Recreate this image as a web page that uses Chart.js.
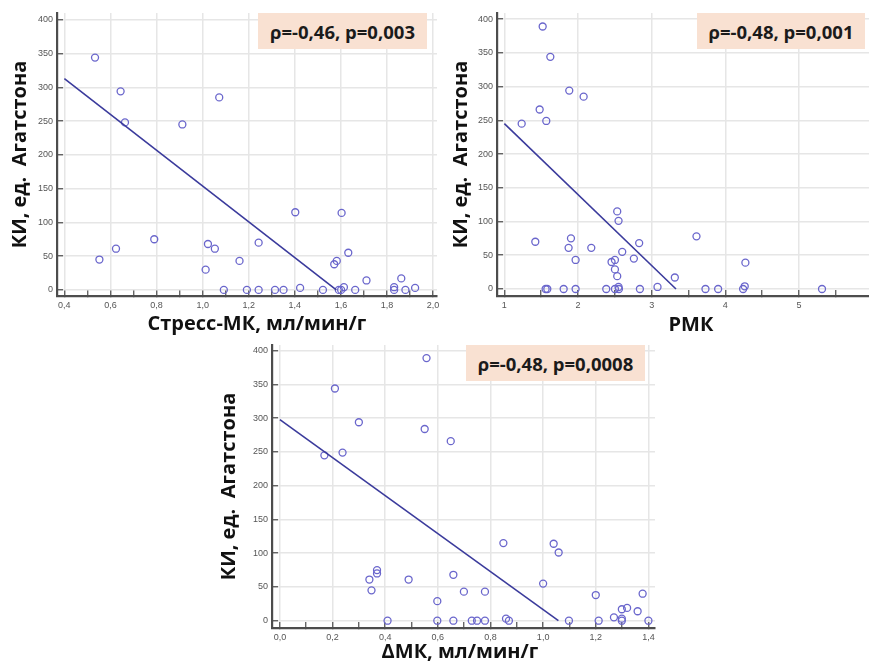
<!DOCTYPE html>
<html lang="ru">
<head>
<meta charset="utf-8">
<title>КИ по Агатстону и показатели миокардиального кровотока</title>
<script src="https://cdn.jsdelivr.net/npm/chart.js@4/dist/chart.umd.min.js"></script>
<style>
  html, body { margin: 0; padding: 0; background: #ffffff; }
  body { position: relative; width: 869px; height: 668px; overflow: hidden; }
  .panel { position: absolute; }
  .panel canvas { display: block; }
  .stat {
    position: absolute;
    background: #f9e1d2;
    color: #1b1b1b;
    font: bold 18.5px "Open Sans", "Liberation Sans", sans-serif;
    display: flex; align-items: center; justify-content: center;
    white-space: nowrap;
  }
  .xtitle {
    position: absolute;
    width: 400px;
    height: 26px;
    line-height: 26px;
    margin-left: -200px;
    margin-top: -13px;
    text-align: center;
    color: #111111;
    font: bold 20px "Open Sans", "Liberation Sans", sans-serif;
    white-space: nowrap;
  }
</style>
</head>
<body>
<div class="panel" style="left:0;top:0"><canvas id="cStress" width="440" height="335"></canvas></div>
<div class="panel" style="left:440px;top:0"><canvas id="cRmk" width="429" height="335"></canvas></div>
<div class="panel" style="left:200px;top:335px"><canvas id="cDmk" width="470" height="333"></canvas></div>
<div class="stat" style="left:258px;top:13px;width:169px;height:36px">ρ=-0,46, p=0,003</div>
<div class="stat" style="left:697px;top:13px;width:168px;height:36px">ρ=-0,48, p=0,001</div>
<div class="stat" style="left:466px;top:345px;width:179px;height:36px">ρ=-0,48, p=0,0008</div>
<div class="xtitle" style="left:257px;top:322px">Стресс-МК, мл/мин/г</div>
<div class="xtitle" style="left:691px;top:323px">РМК</div>
<div class="xtitle" style="left:460px;top:650px">ΔМК, мл/мин/г</div>

<script>
// Коронарный кальций (КИ, ед. Агатстона) — общая ось Y для трёх графиков
const kiTicks = [0, 50, 100, 150, 200, 250, 300, 350, 400];
const kiTitle = 'КИ, ед.  Агатстона';

// Стресс-МК, мл/мин/г
const stressX = [0.533, 0.552, 0.624, 0.644, 0.663, 0.790, 0.912, 1.013, 1.023, 1.053, 1.072, 1.092,
  1.160, 1.192, 1.243, 1.243, 1.314, 1.351, 1.402, 1.423, 1.522, 1.571, 1.582, 1.591, 1.601, 1.603,
  1.613, 1.632, 1.662, 1.711, 1.831, 1.831, 1.862, 1.880, 1.922];
const stressY = [344, 45, 61, 294, 248, 75, 245, 30, 68, 61, 285, 0,
  43, 0, 70, 0, 0, 0, 115, 3, 0, 38, 43, 0, 0, 114,
  4, 55, 0, 14, 4, 0, 17, 0, 3];
const stressFitX = [0.4, 1.58];
const stressFitY = [313, 0];
const stressTicks = [0.4, 0.6, 0.8, 1.0, 1.2, 1.4, 1.6, 1.8, 2.0];
const stressTickLabels = ['0,4', '0,6', '0,8', '1,0', '1,2', '1,4', '1,6', '1,8', '2,0'];
const stressMinorTicks = [0.5, 0.7, 0.9, 1.1, 1.3, 1.5, 1.7, 1.9];

// РМК
const rmkX = [1.520, 1.624, 1.881, 2.076, 1.479, 1.235, 1.569, 2.532, 2.550, 1.420, 1.904, 1.872,
  2.180, 2.830, 2.600, 1.967, 2.455, 2.501, 2.758, 2.501, 2.532, 3.314, 4.272, 3.608, 3.079,
  2.550, 4.263, 1.560, 1.583, 1.805, 1.967, 2.383, 2.501, 2.555, 2.840, 3.730, 3.902, 4.241, 5.312];
const rmkY = [389, 344, 294, 285, 266, 245, 249, 115, 101, 70, 75, 61,
  61, 68, 55, 43, 40, 43, 45, 29, 19, 17, 39, 78, 3,
  3, 4, 0, 0, 0, 0, 0, 0, 0, 0, 0, 0, 0, 0];
const rmkFitX = [1.0, 3.33];
const rmkFitY = [245, 0];
const rmkTicks = [1, 2, 3, 4, 5];
const rmkTickLabels = ['1', '2', '3', '4', '5'];
const rmkMinorTicks = [1.5, 2.5, 3.5, 4.5, 5.5];

// ΔМК, мл/мин/г
const dmkX = [0.557, 0.209, 0.300, 0.550, 0.649, 0.169, 0.238, 0.849, 1.040, 1.059, 0.369, 0.369,
  0.340, 0.489, 0.659, 0.348, 0.699, 0.779, 1.000, 0.598, 1.200, 1.378, 1.299, 1.319, 1.359,
  1.269, 1.299, 0.859, 0.409, 0.598, 0.659, 0.729, 0.749, 0.779, 0.870, 1.098, 1.211, 1.299, 1.400];
const dmkY = [389, 344, 294, 284, 266, 245, 249, 115, 114, 101, 75, 70,
  61, 61, 68, 45, 43, 43, 55, 29, 38, 40, 17, 19, 14,
  5, 3, 3, 0, 0, 0, 0, 0, 0, 0, 0, 0, 0, 0];
const dmkFitX = [0.0, 1.058];
const dmkFitY = [298, 0];
const dmkTicks = [0.0, 0.2, 0.4, 0.6, 0.8, 1.0, 1.2, 1.4];
const dmkTickLabels = ['0,0', '0,2', '0,4', '0,6', '0,8', '1,0', '1,2', '1,4'];
const dmkMinorTicks = [0.1, 0.3, 0.5, 0.7, 0.9, 1.1, 1.3];

const TITLE_FONT = { family: '"Open Sans", "Liberation Sans", sans-serif', size: 20, weight: 'bold', lineHeight: 1.2 };
const TICK_FONT = { family: '"Liberation Sans", Arial, sans-serif', size: 9 };
const GRID = '#e6e6e6';
const AXIS = '#4d4d4d';
const POINT = '#6a66cc';
const FIT = '#3b3b9c';

function toPoints(xs, ys) {
  return xs.map((x, i) => ({ x: x, y: ys[i] }));
}

function makeScatter(canvasId, p) {
  const major = p.xTicks;
  const allX = major.concat(p.xMinor).sort((a, b) => a - b);
  return new Chart(document.getElementById(canvasId), {
    type: 'scatter',
    data: {
      datasets: [
        {
          data: toPoints(p.x, p.y),
          showLine: false,
          pointStyle: 'circle',
          pointRadius: 3.5,
          pointHoverRadius: 3.5,
          pointBorderWidth: 1.3,
          pointBorderColor: POINT,
          pointBackgroundColor: 'rgba(0,0,0,0)',
          order: 2
        },
        {
          data: toPoints(p.fitX, p.fitY),
          showLine: true,
          borderColor: FIT,
          borderWidth: 1.6,
          pointRadius: 0,
          fill: false,
          order: 1
        }
      ]
    },
    options: {
      responsive: false,
      animation: false,
      events: [],
      layout: { autoPadding: false, padding: { top: p.padTop, right: p.padRight, left: 0, bottom: 0 } },
      plugins: { legend: { display: false }, tooltip: { enabled: false }, title: { display: false } },
      scales: {
        x: {
          type: 'linear',
          position: 'bottom',
          min: p.xMin,
          max: p.xMax,
          afterBuildTicks: (s) => { s.ticks = allX.map(v => ({ value: v })); },
          afterFit: (s) => { s.height = p.xHeight; s.paddingLeft = 0; s.paddingRight = 0; },
          ticks: {
            autoSkip: false,
            maxRotation: 0,
            padding: 10,
            color: '#555555',
            font: TICK_FONT,
            callback: (v) => { const i = major.indexOf(v); return i >= 0 ? p.xLabels[i] : ''; }
          },
          grid: {
            color: (c) => (c.tick && major.indexOf(c.tick.value) >= 0 ? GRID : 'rgba(0,0,0,0)'),
            lineWidth: 1.5,
            tickColor: AXIS,
            tickWidth: 1.2,
            tickLength: -6
          },
          border: { display: true, color: AXIS, width: 2.2 },
          title: { display: false }
        },
        y: {
          type: 'linear',
          position: 'left',
          min: p.yMin,
          max: p.yMax,
          afterBuildTicks: (s) => { s.ticks = kiTicks.map(v => ({ value: v })); },
          afterFit: (s) => { s.width = p.yWidth; s.paddingTop = 0; s.paddingBottom = 0; },
          ticks: {
            autoSkip: false,
            padding: 10,
            color: '#555555',
            font: TICK_FONT,
            callback: (v) => String(v)
          },
          grid: {
            color: GRID,
            lineWidth: 1.5,
            tickColor: AXIS,
            tickWidth: 1.2,
            tickLength: -6
          },
          border: { display: true, color: AXIS, width: 2.2 },
          title: { display: true, text: kiTitle, color: '#111111', font: TITLE_FONT, padding: { top: p.yTitlePad, bottom: 0 } }
        }
      }
    }
  });
}

makeScatter('cStress', {
  x: stressX, y: stressY, fitX: stressFitX, fitY: stressFitY,
  xTicks: stressTicks, xLabels: stressTickLabels, xMinor: stressMinorTicks,
  xMin: 0.368, xMax: 2.017, yMin: -9, yMax: 410,
  padTop: 13, padRight: 3, yWidth: 57, xHeight: 39, yTitlePad: 8
});

makeScatter('cRmk', {
  x: rmkX, y: rmkY, fitX: rmkFitX, fitY: rmkFitY,
  xTicks: rmkTicks, xLabels: rmkTickLabels, xMinor: rmkMinorTicks,
  xMin: 0.9, xMax: 5.95, yMin: -10.4, yMax: 409,
  padTop: 13, padRight: 0, yWidth: 57, xHeight: 39, yTitlePad: 9
});

makeScatter('cDmk', {
  x: dmkX, y: dmkY, fitX: dmkFitX, fitY: dmkFitY,
  xTicks: dmkTicks, xLabels: dmkTickLabels, xMinor: dmkMinorTicks,
  xMin: -0.03, xMax: 1.425, yMin: -10.8, yMax: 408.4,
  padTop: 10, padRight: 15, yWidth: 72, xHeight: 40, yTitlePad: 17
});
</script>
</body>
</html>
